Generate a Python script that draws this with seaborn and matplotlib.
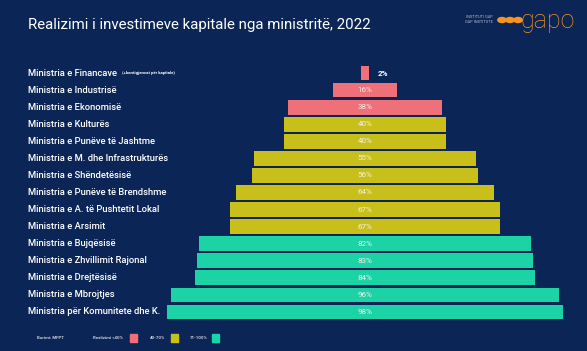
import matplotlib
matplotlib.use("Agg")
import matplotlib.pyplot as plt
import matplotlib.transforms as mtransforms
import seaborn as sns
import pandas as pd

ministries = [
    "Ministria e Financave",
    "Ministria e Industrisë",
    "Ministria e Ekonomisë",
    "Ministria e Kulturës",
    "Ministria e Punëve të Jashtme",
    "Ministria e M. dhe Infrastrukturës",
    "Ministria e Shëndetësisë",
    "Ministria e Punëve të Brendshme",
    "Ministria e A. të Pushtetit Lokal",
    "Ministria e Arsimit",
    "Ministria e Bujqësisë",
    "Ministria e Zhvillimit Rajonal",
    "Ministria e Drejtësisë",
    "Ministria e Mbrojtjes",
    "Ministria për Komunitete dhe K.",
]
values = [2, 16, 38, 40, 40, 55, 56, 64, 67, 67, 82, 83, 84, 96, 98]
groups = ["<40", "<40", "<40", "40-70", "40-70", "40-70", "40-70", "40-70",
          "40-70", "40-70", "71-100", "71-100", "71-100", "71-100", "71-100"]
legend_labels = ["Realizimi <40%", "40-70%", "71-100%"]

BG = "#0b2556"
palette = {"<40": "#f0707a", "40-70": "#c9bf1b", "71-100": "#1cd3a6"}

df = pd.DataFrame({"ministry": ministries, "value": values, "group": groups})
df["half"] = df["value"] / 2
df["neg"] = -df["value"] / 2

sns.set_theme(style="white")
plt.rcParams["font.family"] = ["Roboto", "DejaVu Sans"]

fig = plt.figure(figsize=(5.87, 3.51), dpi=100, facecolor=BG)
ax = fig.add_axes([0, 30.5 / 351, 1, 256 / 351])
ax.set_facecolor(BG)

for col in ["half", "neg"]:
    sns.barplot(data=df, y="ministry", x=col, hue="group", palette=palette,
                dodge=False, width=0.86, orient="h", ax=ax, legend=False,
                linewidth=0, saturation=1)

ax.set_xlim(-365 / 4.04, 222 / 4.04)
ax.set_ylim(14.5, -0.5)
ax.set_xlabel("")
ax.set_ylabel("")
ax.set_xticks([])
ax.set_yticks([])
for s in ax.spines.values():
    s.set_visible(False)

trans = mtransforms.blended_transform_factory(fig.transFigure, ax.transData)
for i, (name, v) in enumerate(zip(ministries, values)):
    ax.text(28 / 587, i, name, transform=trans, color="white", fontsize=6.75,
            fontweight="medium", va="center", ha="left")
    if v < 10:
        ax.text(v / 2 + 2.2, i, f"{v}%", color="white", fontsize=5.8,
                fontweight="bold", va="center", ha="left")
    else:
        ax.text(0, i, f"{v}%", color="#f4eeee", fontsize=5.8,
                va="center", ha="center")

ax.text(122 / 587, 0, "(+kontigjencat për kapitale)", transform=trans,
        color="white", fontsize=3.1, fontweight="bold", va="center", ha="left")

fig.text(28 / 587, 1 - 25 / 351, "Realizimi i investimeve kapitale nga ministritë, 2022",
         color="white", fontsize=10.8, va="center", ha="left")

# logo
fig.text(493 / 587, 1 - 17 / 351, "INSTITUTI GAP", color="#b8bcc8", fontsize=2.8,
         ha="right", va="center")
fig.text(493 / 587, 1 - 22 / 351, "GAP INSTITUTE", color="#b8bcc8", fontsize=2.8,
         ha="right", va="center")
orange = "#f7941d"
for cx in [502, 510, 518]:
    fig.patches.append(plt.Circle((cx / 587, 1 - 20 / 351), 4.2 / 587,
                                  transform=fig.transFigure, color=orange))
fig.text(521 / 587, 1 - 21 / 351, "gapo", color=orange, fontsize=18,
         fontweight="light", ha="left", va="center")

# footer legend
fy = 1 - 338 / 351
fig.text(37 / 587, fy, "Burimi: MFPT", color="#c8ccd8", fontsize=3.2,
         fontweight="bold", ha="left", va="center")
items = [(93, 130, "<40"), (150, 171, "40-70"), (190, 212, "71-100")]
for (tx, sx, g), lab in zip(items, legend_labels):
    fig.text(tx / 587, fy, lab, color="#c8ccd8", fontsize=3.2, fontweight="bold",
             ha="left", va="center")
    fig.patches.append(plt.Rectangle((sx / 587, fy - 3.8 / 351), 7 / 587, 7.6 / 351,
                                     transform=fig.transFigure, color=palette[g]))

fig.savefig("out.png", dpi=100, facecolor=BG)
